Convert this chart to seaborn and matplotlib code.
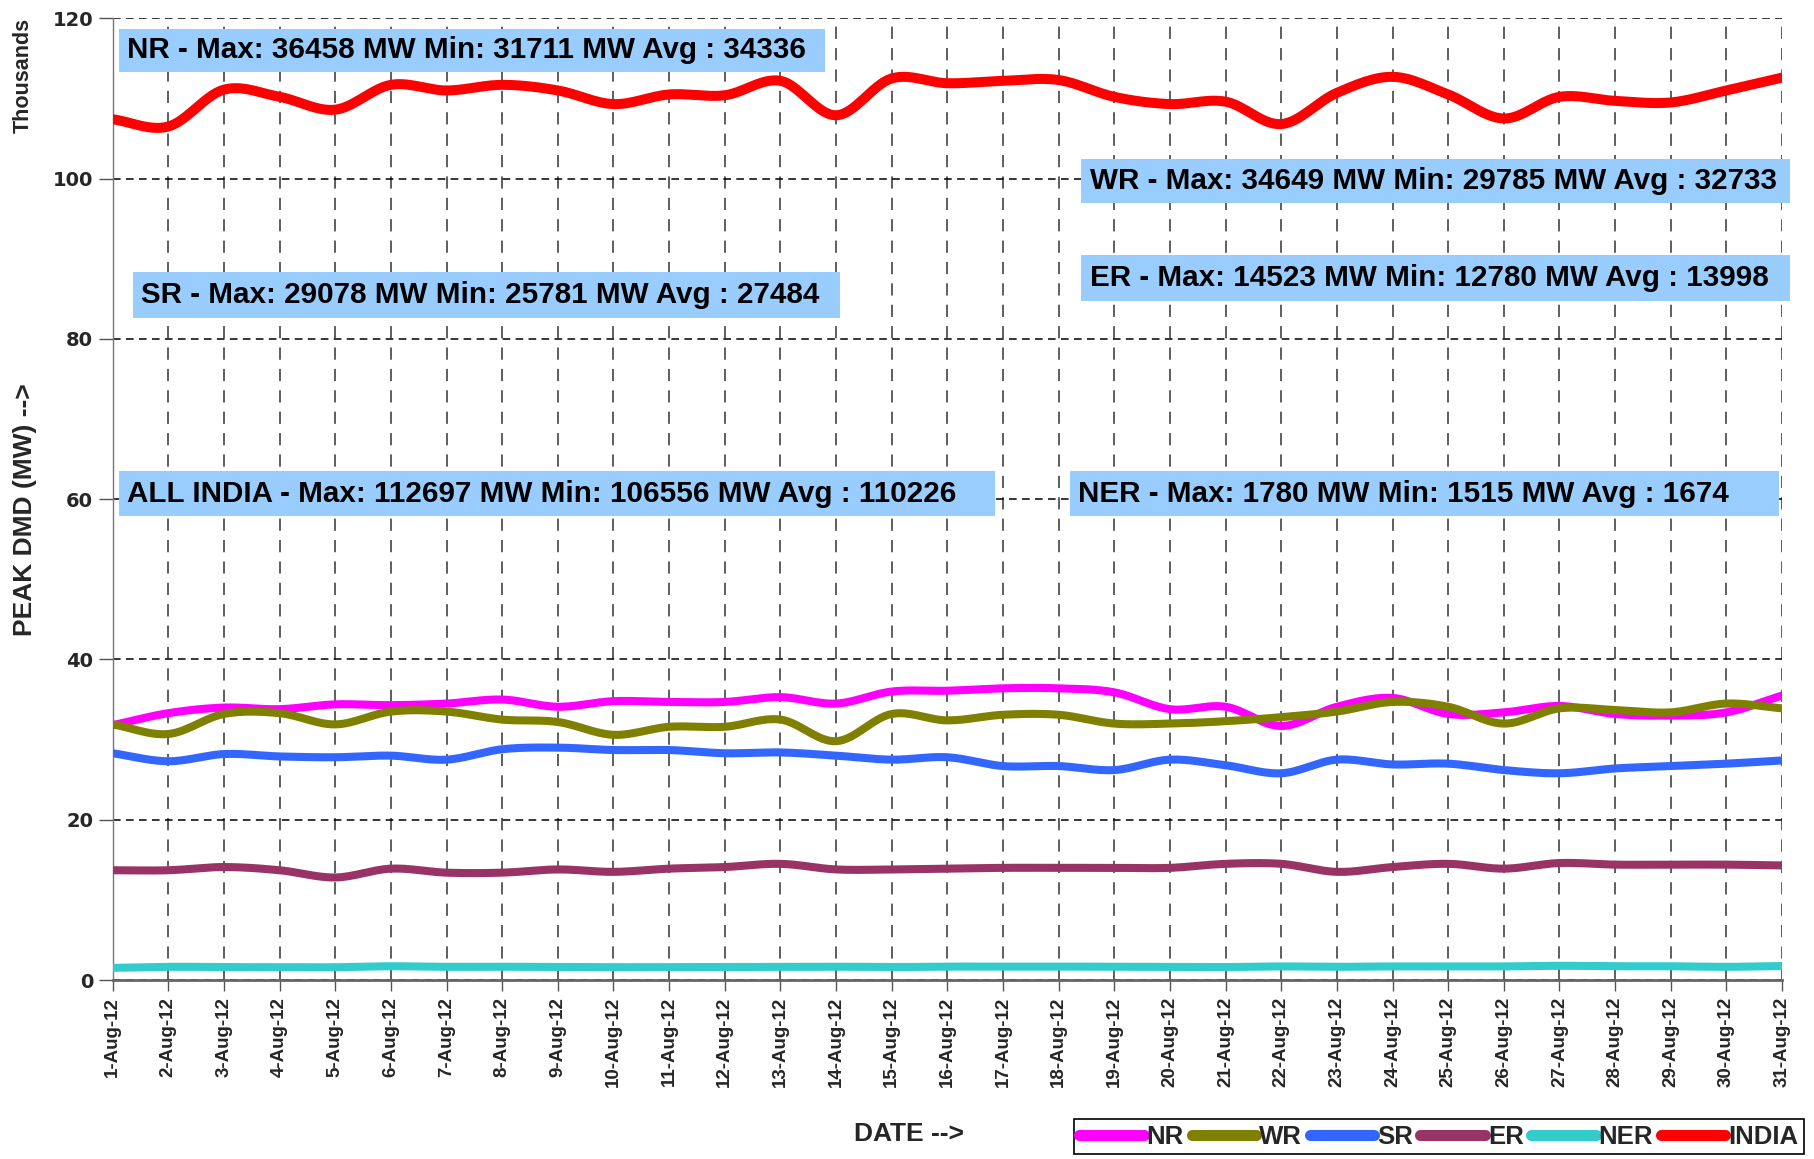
import numpy as np
import pandas as pd
import matplotlib
matplotlib.use("Agg")
import matplotlib.pyplot as plt
import seaborn as sns
from matplotlib.patches import Rectangle
from matplotlib.lines import Line2D

# datos (miles de MW)
days = list(range(1, 32))
tick_labels = [f"{d}-Aug-12" for d in days]

nr = [31.8, 33.3, 34.0, 33.8, 34.4, 34.3, 34.5, 35.0, 34.1, 34.8, 34.7, 34.7, 35.3, 34.5, 36.0, 36.1,
      36.4, 36.4, 35.9, 33.8, 34.1, 31.7, 34.1, 35.2, 33.2, 33.4, 34.2, 33.2, 33.0, 33.4, 35.5]
wr = [31.9, 30.7, 33.2, 33.3, 31.9, 33.5, 33.5, 32.5, 32.2, 30.6, 31.6, 31.6, 32.5, 29.8, 33.2, 32.4,
      33.1, 33.1, 32.0, 32.0, 32.3, 32.8, 33.5, 34.7, 34.1, 32.0, 33.9, 33.7, 33.4, 34.5, 33.9]
sr = [28.3, 27.3, 28.2, 27.9, 27.8, 28.0, 27.5, 28.8, 29.0, 28.7, 28.7, 28.3, 28.4, 28.0, 27.5, 27.8,
      26.7, 26.7, 26.2, 27.5, 26.8, 25.8, 27.5, 26.9, 27.0, 26.2, 25.8, 26.4, 26.7, 27.0, 27.4]
er = [13.7, 13.7, 14.1, 13.7, 12.8, 13.9, 13.4, 13.4, 13.8, 13.5, 13.9, 14.1, 14.5, 13.8, 13.8, 13.9,
      14.0, 14.0, 14.0, 14.0, 14.5, 14.5, 13.5, 14.1, 14.5, 13.9, 14.6, 14.4, 14.4, 14.4, 14.3]
ner = [1.52, 1.65, 1.62, 1.60, 1.60, 1.72, 1.65, 1.66, 1.62, 1.60, 1.62, 1.64, 1.65, 1.66, 1.62, 1.68,
       1.66, 1.68, 1.65, 1.63, 1.62, 1.70, 1.65, 1.70, 1.70, 1.70, 1.78, 1.72, 1.72, 1.65, 1.75]
india = [107.4, 106.5, 111.1, 110.2, 108.6, 111.7, 111.0, 111.7, 111.0, 109.3, 110.5, 110.4, 112.2, 107.9,
         112.5, 111.9, 112.2, 112.3, 110.2, 109.3, 109.6, 106.8, 110.7, 112.7, 110.5, 107.5, 110.2, 109.7,
         109.5, 111.0, 112.6]

series_names = ['NR', 'WR', 'SR', 'ER', 'NER', 'INDIA']
series_vals = [nr, wr, sr, er, ner, india]
colors = {'NR': '#FF00FF', 'WR': '#808000', 'SR': '#3366FF', 'ER': '#993366',
          'NER': '#33CCCC', 'INDIA': '#FF0000'}

notes = [
    "NR - Max: 36458 MW Min: 31711 MW Avg : 34336",
    "WR - Max: 34649 MW Min: 29785 MW Avg : 32733",
    "ER - Max: 14523 MW Min: 12780 MW Avg : 13998",
    "SR - Max: 29078 MW Min: 25781 MW Avg : 27484",
    "ALL INDIA - Max: 112697 MW Min: 106556 MW Avg : 110226",
    "NER - Max: 1780 MW Min: 1515 MW Avg : 1674",
]
# (x0, x1, y0, y1, x_texto) en coordenadas de datos
note_boxes = [
    (1.12, 13.80, 113.3, 118.7, 1.26),
    (18.41, 31.14, 97.0, 102.5, 18.56),
    (18.41, 31.14, 84.7, 90.5, 18.56),
    (1.37, 14.07, 82.6, 88.4, 1.51),
    (1.12, 16.86, 57.9, 63.5, 1.26),
    (18.21, 30.95, 57.9, 63.5, 18.35),
]


def smooth(x, y, n=16):
    # curva suavizada tipo Excel (Catmull-Rom)
    x = np.asarray(x, float)
    y = np.asarray(y, float)
    px = np.concatenate([[2 * x[0] - x[1]], x, [2 * x[-1] - x[-2]]])
    py = np.concatenate([[2 * y[0] - y[1]], y, [2 * y[-1] - y[-2]]])
    t = np.linspace(0, 1, n, endpoint=False)
    ox, oy = [], []
    for i in range(1, len(px) - 2):
        for arr, out in ((px, ox), (py, oy)):
            p0, p1, p2, p3 = arr[i - 1:i + 3]
            out.extend(0.5 * (2 * p1 + (-p0 + p2) * t + (2 * p0 - 5 * p1 + 4 * p2 - p3) * t ** 2
                              + (-p0 + 3 * p1 - 3 * p2 + p3) * t ** 3))
    ox.append(x[-1])
    oy.append(y[-1])
    return np.array(ox), np.array(oy)


sns.set_style("ticks")
plt.rcParams['font.family'] = ['Liberation Sans', 'DejaVu Sans']

fig = plt.figure(figsize=(18.14, 11.59), dpi=100)
ax = fig.add_axes([0.0621, 0.1544, 0.9203, 0.8298])

for name, vals in zip(series_names, series_vals):
    sx, sy = smooth(days, vals)
    df = pd.DataFrame({'day': sx, 'mw': sy})
    sns.lineplot(data=df, x='day', y='mw', ax=ax, color=colors[name], sort=False, estimator=None,
                 linewidth=7.2 if name == 'INDIA' else 5.8, solid_capstyle='round',
                 solid_joinstyle='round', zorder=3)

for (x0, x1, y0, y1, xt), txt in zip(note_boxes, notes):
    ax.add_patch(Rectangle((x0, y0), x1 - x0, y1 - y0, facecolor='#99CCFF', edgecolor='none',
                           zorder=1, clip_on=False))
    ax.text(xt, (y0 + y1) / 2, txt, fontsize=21.3, fontweight='bold', va='center', ha='left',
            color='black', zorder=4)

ax.set_xlim(1, 31)
ax.set_ylim(0, 120)
ax.set_xticks(days)
ax.set_xticklabels(tick_labels, rotation=90, fontsize=13.5, fontweight='bold')
ax.set_yticks(range(0, 121, 20))
ax.set_yticklabels([str(v) for v in range(0, 121, 20)], fontsize=14, fontweight='bold',
                   family='DejaVu Sans')
ax.set_xlabel('')
ax.set_ylabel('')

ax.set_axisbelow(True)
ax.xaxis.grid(True, color='#333333', linewidth=1.1, linestyle=(0, (8, 6)))
ax.yaxis.grid(True, color='black', linewidth=1.1, linestyle=(0, (5, 3.5)))
ax.tick_params(axis='y', direction='out', length=10, width=1, color='#555555', pad=4)
ax.tick_params(axis='x', direction='out', length=8, width=1, color='#555555', pad=4)

for s in ['top', 'right']:
    ax.spines[s].set_visible(False)
ax.spines['left'].set_color('#777777')
ax.spines['left'].set_linewidth(1)
ax.spines['bottom'].set_color('#666666')
ax.spines['bottom'].set_linewidth(2)

fig.text(0.0127, 0.935, 'Thousands', rotation=90, fontsize=15.5, fontweight='bold',
         ha='center', va='center')
fig.text(0.0138, 0.56, 'PEAK DMD (MW) -->', rotation=90, fontsize=19, fontweight='bold',
         ha='center', va='center')
fig.text(0.501, 0.0216, 'DATE -->', fontsize=19, fontweight='bold', ha='center', va='center')

handles = [Line2D([0], [0], color=colors[n], linewidth=8, solid_capstyle='round') for n in series_names]
leg = fig.legend(handles, series_names, loc='lower right', bbox_to_anchor=(0.9945, 0.004), ncol=6,
                 frameon=True, fancybox=False, framealpha=1, edgecolor='black', fontsize=18.5,
                 handlelength=2.5, handletextpad=0.12, columnspacing=0.3, borderpad=0.22,
                 borderaxespad=0)
for t in leg.get_texts():
    t.set_fontweight('bold')
leg.get_frame().set_linewidth(1.2)

fig.savefig('out.png', dpi=100)
